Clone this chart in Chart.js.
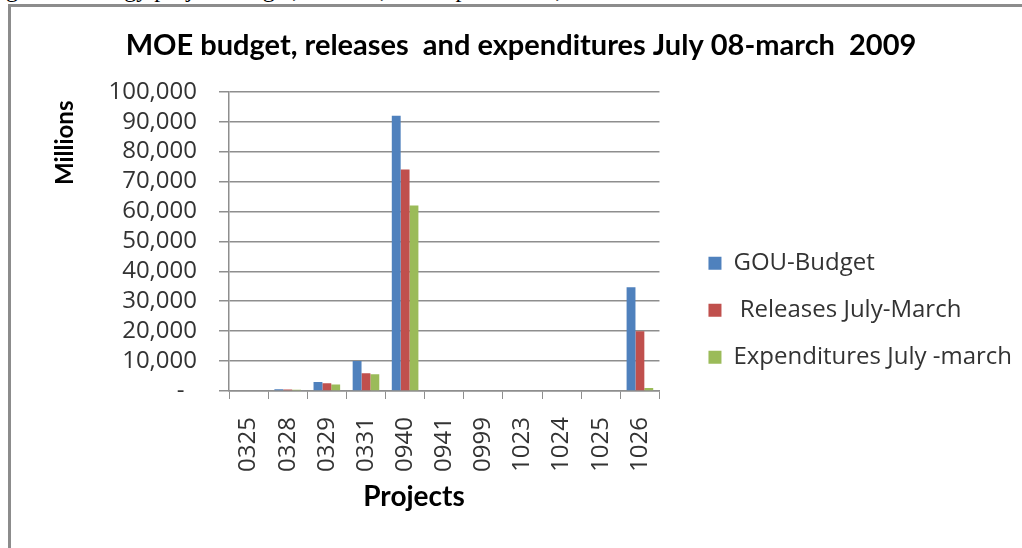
<!DOCTYPE html>
<html>
<head>
<meta charset="utf-8">
<script src="https://cdn.jsdelivr.net/npm/chart.js@4"></script>
<style>
  html, body { margin: 0; padding: 0; background: #fff; width: 1022px; height: 548px; overflow: hidden; }
  .caption { position: absolute; left: -14px; top: -24px; font: 24px "Liberation Serif", "Times New Roman", serif; color: #000; white-space: nowrap; }
  .frame { position: absolute; left: 8px; top: 4px; width: 1100px; height: 600px; border-left: 3px solid #8c8c8c; border-top: 3px solid #8c8c8c; }
  #chart { position: absolute; left: 0; top: 0; }
</style>
</head>
<body>
<div class="caption">Figure 5: Energy          project budget, releases, and expenditures, 2008/09</div>
<div class="frame"></div>
<canvas id="chart" width="1022" height="548"></canvas>
<script>
const projects = ['0325', '0328', '0329', '0331', '0940', '0941', '0999', '1023', '1024', '1025', '1026'];
const gouBudget = [0, 600, 3000, 10000, 92000, 0, 0, 0, 0, 0, 34700];
const releases = [0, 500, 2600, 5900, 74000, 0, 0, 0, 0, 0, 20000];
const expenditures = [0, 450, 2200, 5600, 62000, 0, 0, 0, 0, 0, 1000];
const yTicks = [0, 10000, 20000, 30000, 40000, 50000, 60000, 70000, 80000, 90000, 100000];

const gridGrey = '#8e8e8e';
const textGrey = '#333333';

// axis titles sit off-centre, so they are painted by hand
const axisTitles = {
  id: 'axisTitles',
  afterDraw(chart) {
    const {ctx, chartArea} = chart;
    ctx.save();
    ctx.fillStyle = '#000';
    ctx.textAlign = 'center';
    ctx.textBaseline = 'middle';
    ctx.font = 'bold 24px Lato, "Open Sans", sans-serif';
    ctx.translate(chartArea.left - 164, chartArea.top + 51);
    ctx.rotate(-Math.PI / 2);
    ctx.fillText('Millions', 0, 0);
    ctx.restore();

    ctx.save();
    ctx.fillStyle = '#000';
    ctx.textAlign = 'center';
    ctx.textBaseline = 'middle';
    ctx.font = 'bold 28px Lato, "Open Sans", sans-serif';
    ctx.fillText('Projects', chartArea.left + 185, chartArea.bottom + 106);
    ctx.restore();
  }
};

new Chart(document.getElementById('chart'), {
  type: 'bar',
  data: {
    labels: projects,
    datasets: [
      { label: 'GOU-Budget', data: gouBudget, backgroundColor: '#4f81bd' },
      { label: ' Releases July-March', data: releases, backgroundColor: '#c0504d' },
      { label: 'Expenditures July -march', data: expenditures, backgroundColor: '#9bbb59' }
    ]
  },
  options: {
    responsive: false,
    animation: false,
    categoryPercentage: 0.68,
    barPercentage: 1,
    layout: { padding: { left: 20, top: 0, right: 0, bottom: 0 } },
    plugins: {
      title: {
        display: true,
        text: 'MOE budget, releases  and expenditures July 08-march  2009',
        color: '#000',
        font: { family: 'Lato, sans-serif', size: 29, weight: 'bold' },
        padding: { top: 28, bottom: 29 }
      },
      legend: {
        position: 'right',
        align: 'center',
        maxWidth: 600,
        title: { display: true, text: '', font: { size: 12 }, padding: { top: 58, bottom: 0 } },
        labels: {
          boxWidth: 13,
          boxHeight: 13,
          padding: 23,
          color: textGrey,
          font: { family: '"Open Sans", sans-serif', size: 24 }
        }
      },
      tooltip: { enabled: false }
    },
    scales: {
      x: {
        grid: { display: true, drawOnChartArea: false, drawTicks: true, tickLength: 8, color: gridGrey, offset: true },
        border: { color: gridGrey, width: 1.5 },
        ticks: {
          color: textGrey,
          minRotation: 90,
          maxRotation: 90,
          padding: 18,
          font: { family: '"Open Sans", sans-serif', size: 24 }
        },
        afterFit: s => { s.height = 157; }
      },
      y: {
        min: 0,
        max: 100000,
        afterBuildTicks: s => { s.ticks = yTicks.map(v => ({ value: v })); },
        grid: { color: gridGrey, lineWidth: 1.5, tickLength: 10 },
        border: { color: gridGrey, width: 1.5 },
        ticks: {
          autoSkip: false,
          color: textGrey,
          padding: 22,
          font: { family: '"Open Sans", sans-serif', size: 24 },
          callback: v => v === 0 ? '-  ' : v.toLocaleString('en-US')
        },
        afterFit: s => { s.width = 209; }
      },
      // empty right-hand axis that keeps the legend away from the plot
      gap: {
        axis: 'y',
        position: 'right',
        grid: { display: false },
        border: { display: false },
        ticks: { display: false },
        afterFit: s => { s.width = 26; }
      }
    }
  },
  plugins: [axisTitles]
});
</script>
</body>
</html>
